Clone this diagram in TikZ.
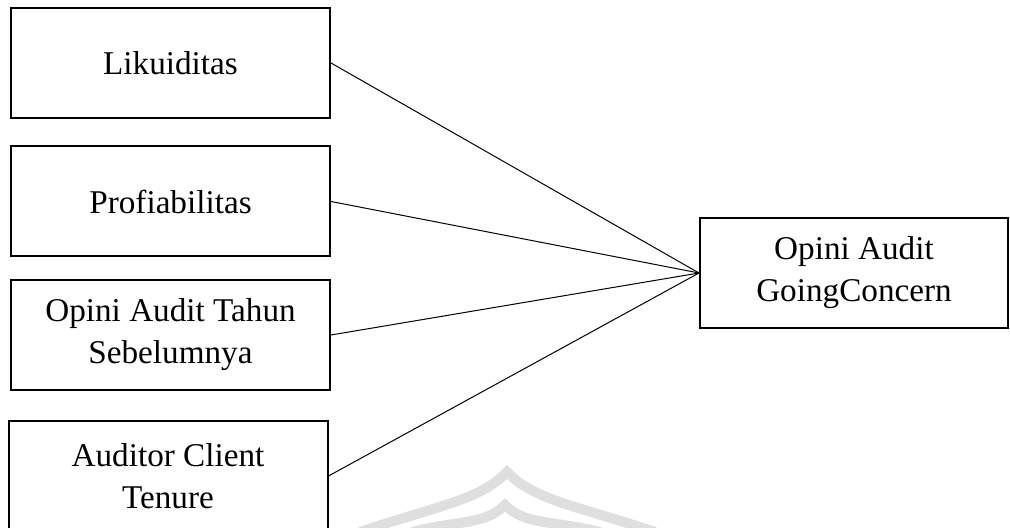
\documentclass[tikz,border=0pt]{standalone}
\usepackage{fontspec}
\setmainfont{Liberation Serif}
\usetikzlibrary{positioning}

\begin{document}
\begin{tikzpicture}[
    x=0.5pt,y=-0.5pt,
    varbox/.style={rectangle,draw,line width=1pt,minimum width=159.5pt,minimum height=55pt,align=center,font=\fontsize{16.6}{21}\selectfont},
    targetbox/.style={rectangle,draw,line width=1pt,minimum width=154pt,minimum height=55pt,align=center,font=\fontsize{16.6}{21}\selectfont},
    link/.style={line width=0.5pt},
    watermark/.style={line width=5pt,gray!25}
]
\useasboundingbox (0,0) rectangle (1010,528);

% Watermark
\draw[watermark] (360,532) .. controls (440,505) and (480,500) .. (507,472) .. controls (534,500) and (574,505) .. (655,532);
\draw[watermark] (412,532) .. controls (460,520) and (485,525) .. (505,505) .. controls (525,525) and (550,520) .. (600,532);

% Independent variables
\node[varbox] (likuiditas) at (170.5,63) {Likuiditas};
\node[varbox] (profit) at (170.5,201.5) {Profiabilitas};
\node[varbox] (opiniprev) at (170.5,335) {Opini Audit Tahun\\Sebelumnya};
\node[varbox] (tenure) at (168,476) {Auditor Client\\Tenure};

% Dependent variable
\node[targetbox] (goingconcern) at (854,273) {Opini Audit\\GoingConcern};

% Connections
\foreach \src in {likuiditas,profit,opiniprev,tenure} {
    \draw[link] (\src.east) -- (goingconcern.west);
}

\end{tikzpicture}
\end{document}
